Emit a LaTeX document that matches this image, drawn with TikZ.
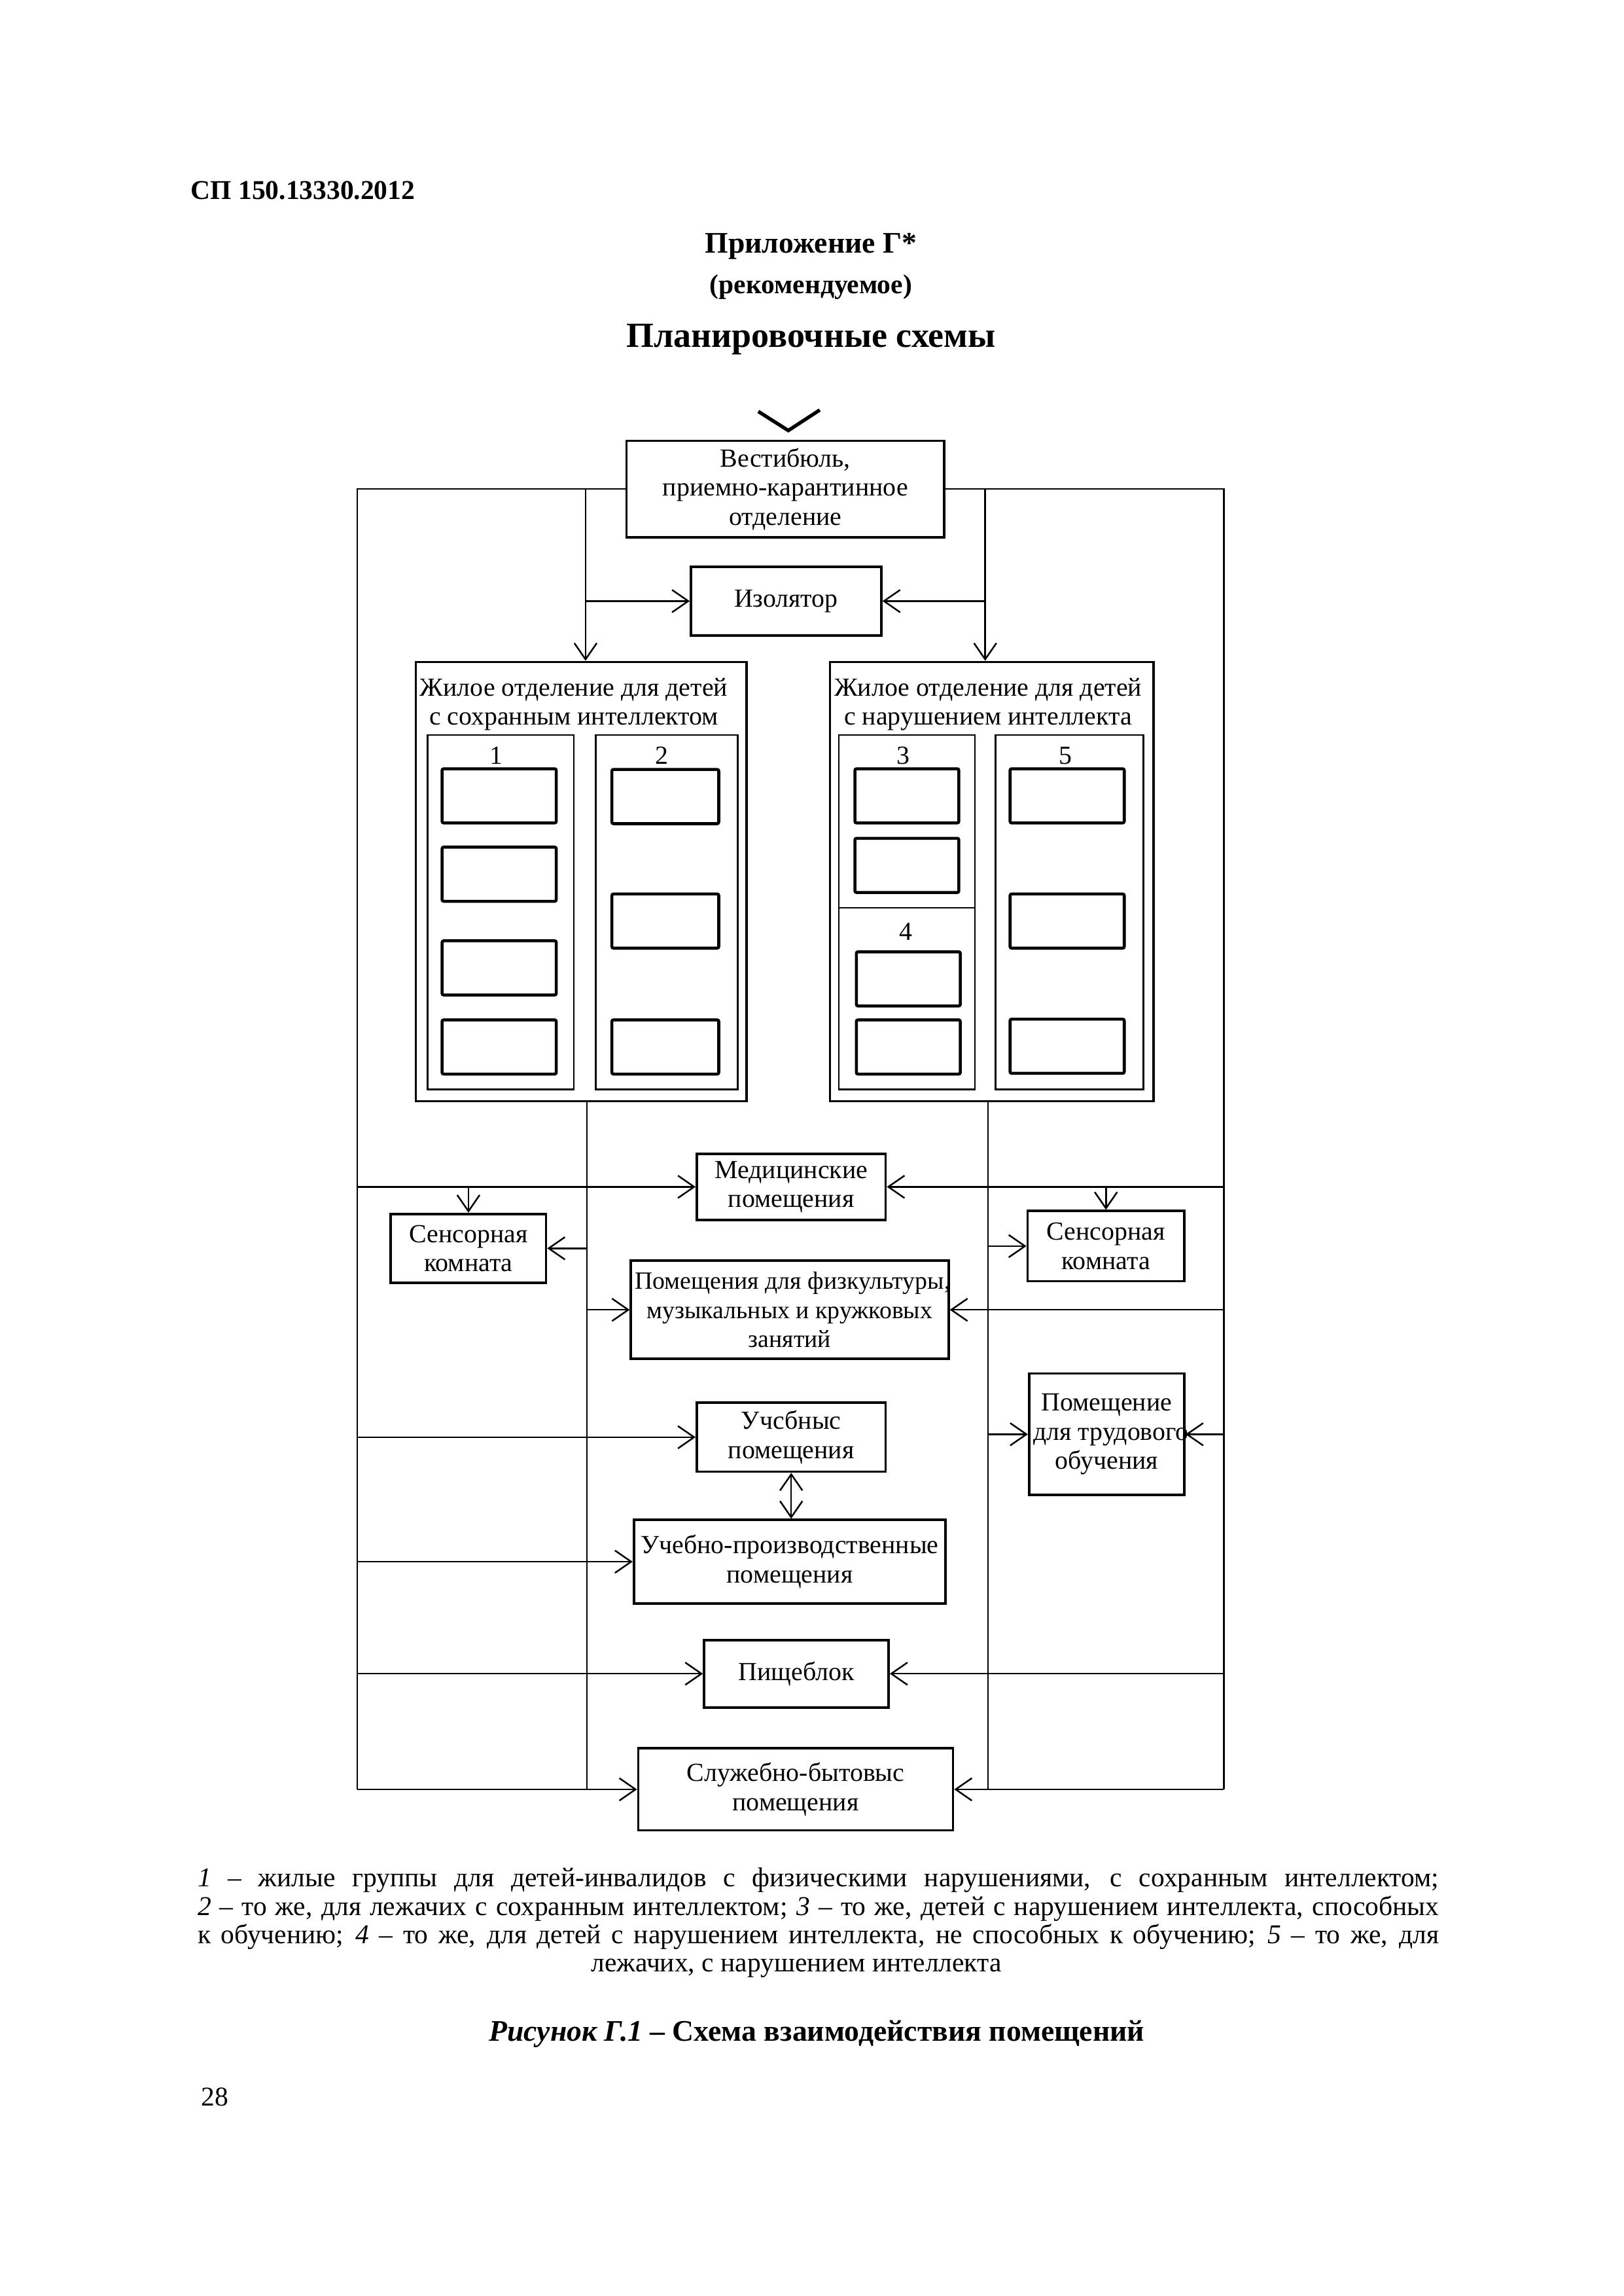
\documentclass[tikz,border=0pt]{standalone}
\usepackage{fontspec}
\setmainfont{Liberation Serif}
\usetikzlibrary{arrows.meta}
\newlength{\pxu}\setlength{\pxu}{0.18936mm}
\begin{document}
\begin{tikzpicture}[x=0.18936mm,y=-0.18936mm,
  txt/.style={font=\fontsize{9.6}{10.7}\selectfont},
  box/.style={draw,line width=0.9pt,inner sep=0pt,align=center,txt},
  hous/.style={draw,line width=0.8pt,inner sep=0pt},
  grp/.style={draw,line width=0.6pt,inner sep=0pt},
  cell/.style={draw,line width=1.1pt,inner sep=0pt,rounded corners=0.6pt},
  conn/.style={line width=0.6pt},
  >={Straight Barb[length=2.1mm,width=2.9mm,line width=0.6pt]},
  arr/.style={conn,->},
  darr/.style={conn,<->},
  plain/.style={inner sep=0pt}
]
\useasboundingbox (0,0) rectangle (1109,1568);

% headings
\node[plain,anchor=west,font=\bfseries\fontsize{10}{12}\selectfont] (hdr) at (130,130) {СП 150.13330.2012};
\node[plain,font=\bfseries\fontsize{11}{13}\selectfont] (app) at (554,168) {Приложение Г*};
\node[plain,font=\bfseries\fontsize{10}{12}\selectfont] (rec) at (554,196) {(рекомендуемое)};
\node[plain,font=\bfseries\fontsize{13}{15}\selectfont] (ttl) at (554,232) {Планировочные схемы};

% entrance mark
\coordinate (e1) at (518,281);
\coordinate (e2) at (538.5,294);
\coordinate (e3) at (560,280);
\draw[line width=1.3pt] (e1) -- (e2) -- (e3);

% main boxes
\node[box,minimum width=217\pxu,minimum height=66\pxu] (vest) at (536.5,334) {Вестибюль,\\приемно-карантинное\\отделение};
\node[box,minimum width=130\pxu,minimum height=47\pxu] (izol) at (537,410.5) {Изолятор};

% housing blocks
\node[hous,minimum width=226\pxu,minimum height=300\pxu] (housL) at (397,602) {};
\node[hous,minimum width=221\pxu,minimum height=300\pxu] (housR) at (677.5,602) {};
\node[plain,txt,align=center] (housLt) at (392,481) {Жилое отделение для детей\\с сохранным интеллектом};
\node[plain,txt,align=center] (housRt) at (675,481) {Жилое отделение для детей\\с нарушением интеллекта};

\node[grp,minimum width=100\pxu,minimum height=242\pxu] (g1) at (342,623) {};
\node[grp,minimum width=97\pxu,minimum height=242\pxu] (g2) at (455.5,623) {};
\node[grp,minimum width=93\pxu,minimum height=118\pxu] (g3) at (619.5,561) {};
\node[grp,minimum width=93\pxu,minimum height=124\pxu] (g4) at (619.5,682) {};
\node[grp,minimum width=101\pxu,minimum height=242\pxu] (g5) at (730.5,623) {};

\node[plain,txt] (n1) at (339,516) {1};
\node[plain,txt] (n2) at (452,516) {2};
\node[plain,txt] (n3) at (617,516) {3};
\node[plain,txt] (n5) at (728,516) {5};
\node[plain,txt] (n4) at (619,636) {4};

\node[cell,minimum width=78\pxu,minimum height=37\pxu] (c11) at (341,543.5) {};
\node[cell,minimum width=78\pxu,minimum height=37\pxu] (c12) at (341,597) {};
\node[cell,minimum width=78\pxu,minimum height=37\pxu] (c13) at (341,661) {};
\node[cell,minimum width=78\pxu,minimum height=37\pxu] (c14) at (341,715) {};
\node[cell,minimum width=73\pxu,minimum height=37\pxu] (c21) at (454.5,544) {};
\node[cell,minimum width=73\pxu,minimum height=37\pxu] (c22) at (454.5,629) {};
\node[cell,minimum width=73\pxu,minimum height=37\pxu] (c23) at (454.5,715) {};
\node[cell,minimum width=71\pxu,minimum height=37\pxu] (c31) at (619.5,543.5) {};
\node[cell,minimum width=71\pxu,minimum height=37\pxu] (c32) at (619.5,591) {};
\node[cell,minimum width=71\pxu,minimum height=37\pxu] (c41) at (620.5,668.5) {};
\node[cell,minimum width=71\pxu,minimum height=37\pxu] (c42) at (620.5,715) {};
\node[cell,minimum width=78\pxu,minimum height=37\pxu] (c51) at (729,543.5) {};
\node[cell,minimum width=78\pxu,minimum height=37\pxu] (c52) at (729,629) {};
\node[cell,minimum width=78\pxu,minimum height=37\pxu] (c53) at (729,714.5) {};

% lower boxes
\node[box,minimum width=129\pxu,minimum height=45\pxu] (med) at (540.5,810.5) {Медицинские\\помещения};
\node[box,minimum width=106\pxu,minimum height=47\pxu] (sensL) at (320,852.5) {Сенсорная\\комната};
\node[box,minimum width=107\pxu,minimum height=48\pxu] (sensR) at (755.5,851) {Сенсорная\\комната};
\node[box,minimum width=217\pxu,minimum height=67\pxu,font=\fontsize{9.1}{10.7}\selectfont] (fiz) at (539.5,894.5) {\makebox[0pt]{\hspace{4\pxu}Помещения для физкультуры,}\\\makebox[0pt]{музыкальных и кружковых}\\\makebox[0pt]{занятий}};
\node[box,minimum width=129\pxu,minimum height=47\pxu] (ucheb) at (540.5,981.5) {Учсбныс\\помещения};
\node[box,minimum width=106\pxu,minimum height=83\pxu] (trud) at (756,979.5) {\makebox[0pt]{Помещение}\\\makebox[0pt]{\hspace{6\pxu}для трудового}\\\makebox[0pt]{обучения}};
\node[box,minimum width=213\pxu,minimum height=57\pxu] (uchprod) at (539.5,1066.5) {Учебно-производственные\\помещения};
\node[box,minimum width=126\pxu,minimum height=46\pxu] (pish) at (544,1143) {Пищеблок};
\node[box,minimum width=215\pxu,minimum height=56\pxu] (sluzh) at (543.5,1222) {Служебно-бытовыс\\помещения};

% junction coordinates
\coordinate (TL) at (244,334);
\coordinate (TR) at (836,334);
\coordinate (jL) at (400,334);
\coordinate (jR) at (673,334);
\coordinate (BL) at (244,1222);
\coordinate (BR) at (836,1222);
\coordinate (mL) at (401,1222);
\coordinate (mR) at (675,1222);

% connectors
\draw[conn] (vest.west) -- (TL) -- (BL);
\draw[conn] (vest.east) -- (TR) -- (BR);
\draw[arr] (jL) -- (jL |- housL.north);
\draw[arr] (jR) -- (jR |- housR.north);
\draw[arr] (jL |- izol) -- (izol.west);
\draw[arr] (jR |- izol) -- (izol.east);
\draw[conn] (housL.south -| mL) -- (mL);
\draw[conn] (housR.south -| mR) -- (mR);
\draw[arr] (TL |- med) -- (med.west);
\draw[arr] (TR |- med) -- (med.east);
\draw[arr] (sensL.north |- med) -- (sensL.north);
\draw[arr] (sensR.north |- med) -- (sensR.north);
\draw[arr] (mL |- sensL) -- (sensL.east);
\draw[arr] (mR |- sensR) -- (sensR.west);
\draw[arr] (mL |- fiz) -- (fiz.west);
\draw[arr] (TR |- fiz) -- (fiz.east);
\draw[arr] (BL |- ucheb) -- (ucheb.west);
\draw[arr] (mR |- trud) -- (trud.west);
\draw[arr] (TR |- trud) -- (trud.east);
\draw[darr] (ucheb.south) -- (ucheb.south |- uchprod.north);
\draw[arr] (BL |- uchprod) -- (uchprod.west);
\draw[arr] (BL |- pish) -- (pish.west);
\draw[arr] (TR |- pish) -- (pish.east);
\draw[arr] (BL) -- (sluzh.west);
\draw[arr] (BR) -- (sluzh.east);

% legend
\node[plain,font=\fontsize{10}{11}\selectfont] (l1) at (559,1284) {\makebox[848\pxu][s]{\textit{1} – жилые группы для детей-инвалидов с физическими нарушениями, с сохранным интеллектом;}};
\node[plain,font=\fontsize{10}{11}\selectfont] (l2) at (559,1303.5) {\makebox[848\pxu][s]{\textit{2} – то же, для лежачих с сохранным интеллектом; \textit{3} – то же, детей с нарушением интеллекта, способных}};
\node[plain,font=\fontsize{10}{11}\selectfont] (l3) at (559,1322.5) {\makebox[848\pxu][s]{к обучению; \textit{4} – то же, для детей с нарушением интеллекта, не способных к обучению; \textit{5} – то же, для}};
\node[plain,font=\fontsize{10}{11}\selectfont] (l4) at (544,1344) {лежачих, с нарушением интеллекта};
\node[plain,font=\bfseries\fontsize{11}{13}\selectfont] (cap) at (558,1389) {\textit{Рисунок Г.1} – Схема взаимодействия помещений};
\node[plain,anchor=west,font=\fontsize{10}{12}\selectfont] (pg) at (137,1432) {28};
\end{tikzpicture}
\end{document}
